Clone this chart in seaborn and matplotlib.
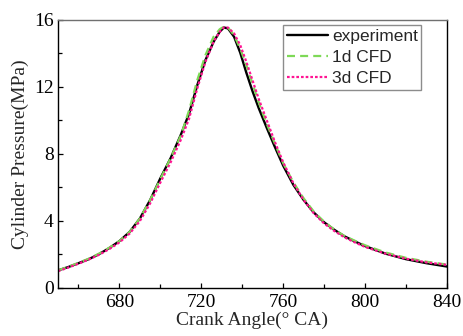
import matplotlib
matplotlib.use("Agg")
import matplotlib.pyplot as plt
from matplotlib.ticker import MultipleLocator
import seaborn as sns
import pandas as pd

crank_angle = [650, 655, 660, 665, 670, 675, 680, 685, 690, 695, 700, 705, 710, 714,
               718, 722, 726, 729, 731, 733, 736, 739, 742, 745, 748, 752, 756, 760,
               765, 770, 775, 780, 785, 790, 795, 800, 810, 820, 830, 840]
experiment = [1.05, 1.25, 1.48, 1.72, 2.02, 2.38, 2.80, 3.35, 4.15, 5.25, 6.55, 7.75, 9.15, 10.4,
              12.1, 13.6, 14.7, 15.3, 15.55, 15.5, 15.0, 14.05, 12.85, 11.75, 10.75, 9.55, 8.4, 7.3,
              6.15, 5.25, 4.5, 3.92, 3.47, 3.08, 2.78, 2.5, 2.05, 1.72, 1.48, 1.28]
cfd_1d = [1.05, 1.27, 1.5, 1.75, 2.05, 2.4, 2.8, 3.35, 4.15, 5.25, 6.5, 7.75, 9.1, 10.6,
          12.4, 13.9, 15.0, 15.45, 15.6, 15.55, 15.1, 14.3, 13.3, 12.2, 11.1, 9.8, 8.6, 7.45,
          6.3, 5.35, 4.55, 3.95, 3.48, 3.1, 2.82, 2.55, 2.12, 1.8, 1.57, 1.4]
cfd_3d = [1.0, 1.22, 1.45, 1.7, 1.98, 2.32, 2.72, 3.25, 4.0, 5.05, 6.3, 7.5, 8.85, 10.1,
          11.9, 13.5, 14.7, 15.3, 15.55, 15.55, 15.2, 14.5, 13.5, 12.4, 11.3, 10.0, 8.7, 7.5,
          6.25, 5.25, 4.45, 3.85, 3.4, 3.02, 2.72, 2.45, 2.05, 1.75, 1.53, 1.38]
series_names = ["experiment", "1d CFD", "3d CFD"]
x_ticks = [680, 720, 760, 800, 840]
y_ticks = [0, 4, 8, 12, 16]

sns.set_style("ticks")
plt.rcParams["font.family"] = ["Liberation Serif", "DejaVu Serif"]

fig = plt.figure(figsize=(4.63, 3.36), dpi=100)
ax = fig.add_axes([0.1253, 0.1429, 0.8401, 0.7976])

df = pd.DataFrame({"x": crank_angle, "experiment": experiment,
                   "1d CFD": cfd_1d, "3d CFD": cfd_3d})

sns.lineplot(data=df, x="x", y="experiment", ax=ax, color="black", lw=1.7,
             label=series_names[0])
sns.lineplot(data=df, x="x", y="1d CFD", ax=ax, color="#7ed957", lw=1.6,
             label=series_names[1], linestyle=(0, (3.6, 2.3)))
sns.lineplot(data=df, x="x", y="3d CFD", ax=ax, color="#ff1493", lw=1.6,
             label=series_names[2], linestyle=(0, (1.2, 0.9)))

ax.set_xlim(650, 840)
ax.set_ylim(0, 16)
ax.set_xticks(x_ticks)
ax.set_yticks(y_ticks)
ax.xaxis.set_minor_locator(MultipleLocator(20))
ax.yaxis.set_minor_locator(MultipleLocator(2))
ax.tick_params(which="both", direction="in", colors="black", labelsize=14, width=0.9)
ax.tick_params(which="major", length=3.6)
ax.tick_params(which="minor", length=3)
ax.tick_params(axis="x", pad=4)
ax.tick_params(axis="y", pad=3)

ax.set_xlabel("Crank Angle(° CA)", fontsize=14, labelpad=1)
ax.set_ylabel("Cylinder Pressure(MPa)", fontsize=14, labelpad=4)

for side in ["left", "bottom", "right"]:
    ax.spines[side].set_color("black")
    ax.spines[side].set_linewidth(1.0)
ax.spines["top"].set_color("#707070")
ax.spines["top"].set_linewidth(1.0)
ax.spines["right"].set_visible(True)
ax.spines["top"].set_visible(True)

leg = ax.legend(loc="upper left", bbox_to_anchor=(0.578, 0.981),
                prop={"family": ["Liberation Sans", "DejaVu Sans"], "size": 12.5},
                frameon=True, fancybox=False, edgecolor="#707070",
                handlelength=2.4, handletextpad=0.2, borderpad=0.22,
                labelspacing=0.33, borderaxespad=0)
leg.get_frame().set_linewidth(1.0)

fig.savefig("out.png", dpi=100)
